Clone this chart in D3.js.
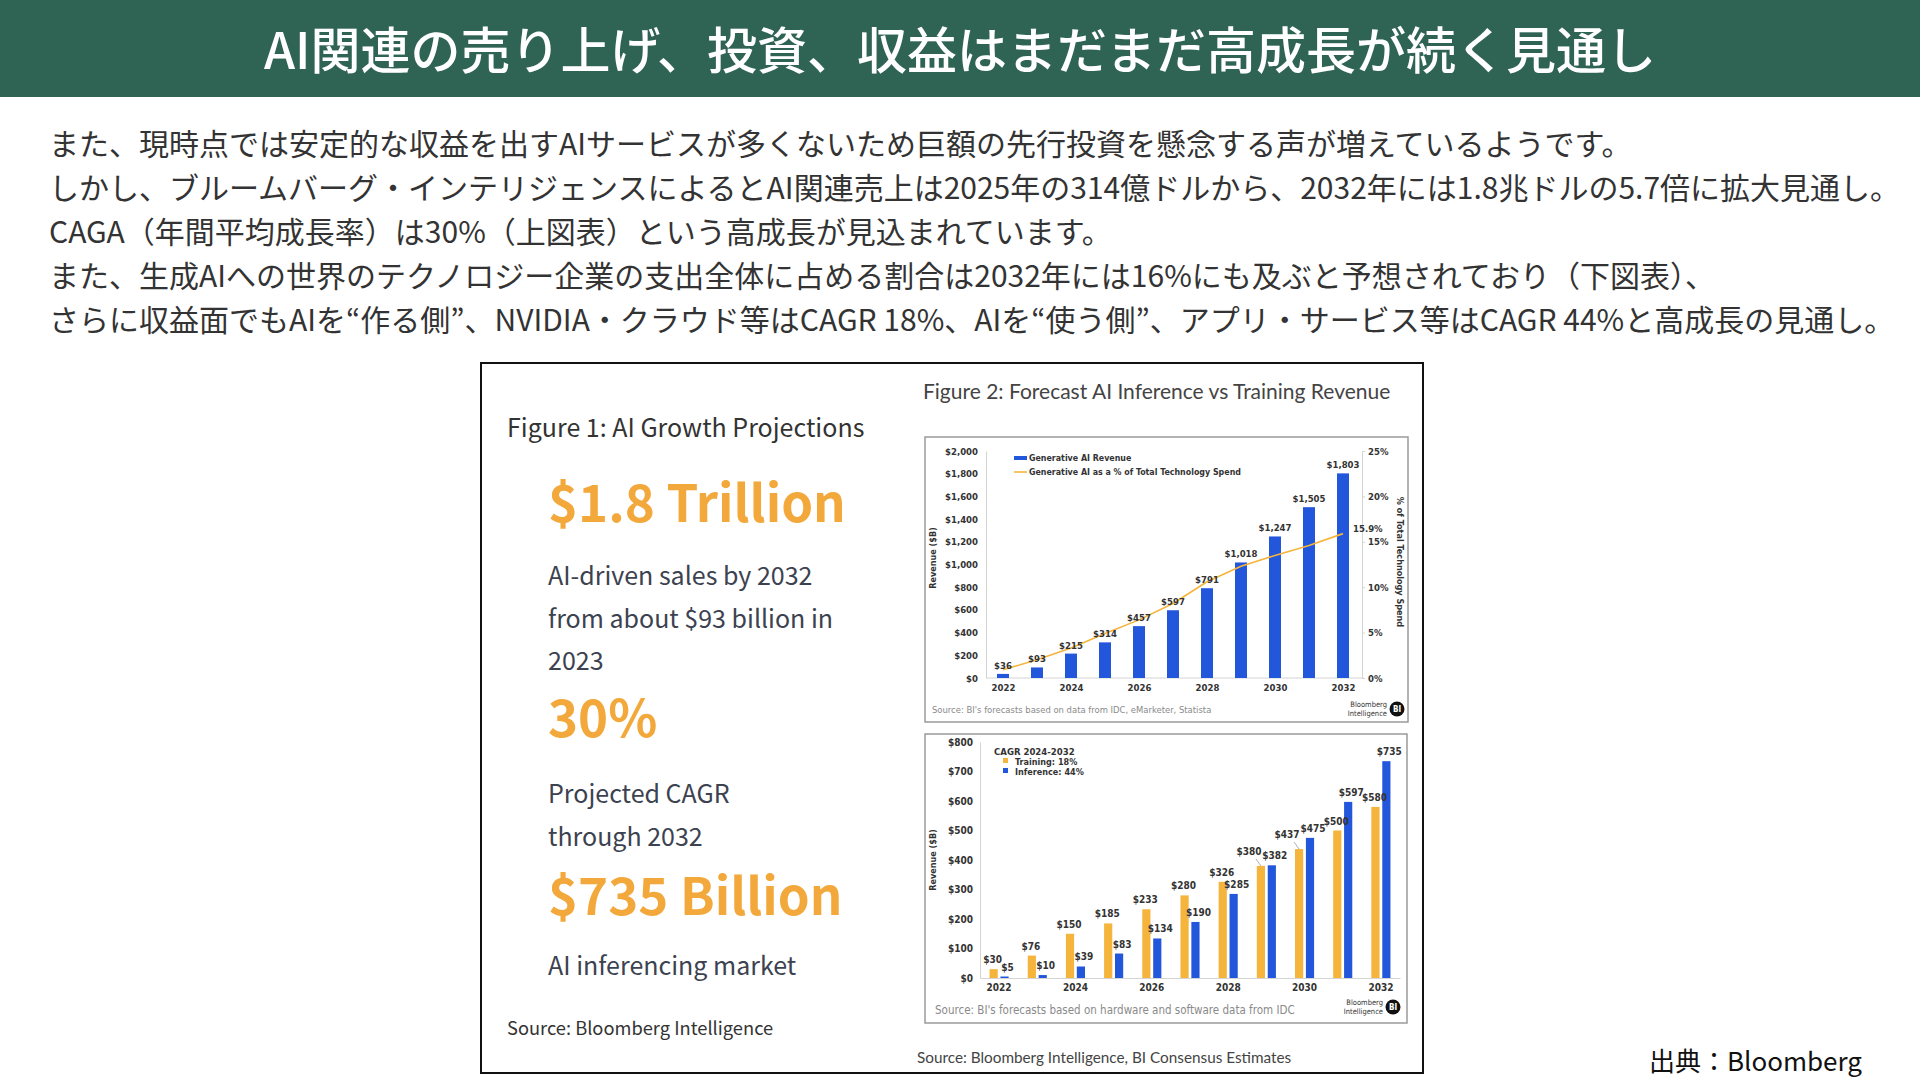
<!DOCTYPE html>
<html>
<head>
<meta charset="utf-8">
<script src="https://d3js.org/d3.v7.min.js"></script>
<style>
  body { margin: 0; background: #fff; }
  svg text { font-family: "Noto Sans CJK JP", sans-serif; }
  .lato { font-family: Lato, sans-serif; }
  .vb { font-family: "DejaVu Sans Condensed", "DejaVu Sans", sans-serif; font-weight: bold; fill: #333; }
  .vr { font-family: "DejaVu Sans Condensed", "DejaVu Sans", sans-serif; fill: #8a8a8a; }
</style>
</head>
<body>
<svg id="page" width="1920" height="1080"></svg>
<script>
// ---- data ----
var pageTitle = "AI関連の売り上げ、投資、収益はまだまだ高成長が続く見通し";
var bodyLines = [
  "また、現時点では安定的な収益を出すAIサービスが多くないため巨額の先行投資を懸念する声が増えているようです。",
  "しかし、ブルームバーグ・インテリジェンスによるとAI関連売上は2025年の314億ドルから、2032年には1.8兆ドルの5.7倍に拡大見通し。",
  "CAGA（年間平均成長率）は30%（上図表）という高成長が見込まれています。",
  "また、生成AIへの世界のテクノロジー企業の支出全体に占める割合は2032年には16%にも及ぶと予想されており（下図表）、",
  "さらに収益面でもAIを“作る側”、NVIDIA・クラウド等はCAGR 18%、AIを“使う側”、アプリ・サービス等はCAGR 44%と高成長の見通し。"
];
var fig1Title = "Figure 1: AI Growth Projections";
var fig1Headlines = ["$1.8 Trillion", "30%", "$735 Billion"];
var fig1Notes = [
  ["AI-driven sales by 2032", "from about $93 billion in", "2023"],
  ["Projected CAGR", "through 2032"],
  ["AI inferencing market"]
];
var fig1Source = "Source: Bloomberg Intelligence";
var fig2Title = "Figure 2: Forecast AI Inference vs Training Revenue";
var fig2Source = "Source: Bloomberg Intelligence, BI Consensus Estimates";
var creditText = "出典：Bloomberg";

var years = [2022, 2023, 2024, 2025, 2026, 2027, 2028, 2029, 2030, 2031, 2032];
var yearTicks = [2022, 2024, 2026, 2028, 2030, 2032];

// chart A: generative AI revenue ($B) and share of tech spend (%)
var genAiRevenue = [36, 93, 215, 314, 457, 597, 791, 1018, 1247, 1505, 1803];
var genAiShare = [0.9, 2.0, 3.3, 4.9, 6.4, 8.2, 10.6, 12.3, 13.5, 14.6, 15.9];
var revenueTicksA = [0, 200, 400, 600, 800, 1000, 1200, 1400, 1600, 1800, 2000];
var shareTicks = [0, 5, 10, 15, 20, 25];
var legendA = ["Generative AI Revenue", "Generative AI as a % of Total Technology Spend"];
var sourceA = "Source: BI's forecasts based on data from IDC, eMarketer, Statista";

// chart B: training vs inference revenue ($B)
var seriesNames = ["Training", "Inference"];
var seriesCagr = [18, 44];
var trainingRevenue = [30, 76, 150, 185, 233, 280, 326, 380, 437, 500, 580];
var inferenceRevenue = [5, 10, 39, 83, 134, 190, 285, 382, 475, 597, 735];
var revenueTicksB = [0, 100, 200, 300, 400, 500, 600, 700, 800];
var legendBTitle = "CAGR 2024-2032";
var sourceB = "Source: BI's forecasts based on hardware and software data from IDC";

var blue = "#2357db", orange = "#f5b43c", bigOrange = "#f2a83b";
var money = function(d) { return "$" + d3.format(",")(d); };

var svg = d3.select("#page");

// ---- header ----
svg.append("rect").attr("x", 0).attr("y", 0).attr("width", 1920).attr("height", 97).attr("fill", "#2f6353");
svg.append("text").attr("x", 960).attr("y", 69).attr("text-anchor", "middle")
  .attr("fill", "#fff").style("font-size", "50px").style("font-weight", 500).text(pageTitle);

svg.append("g").selectAll("text").data(bodyLines).enter().append("text")
  .attr("x", 49).attr("y", function(d, i) { return 155 + i * 44; })
  .attr("fill", "#333").style("font-size", "30px").text(function(d) { return d; });

// ---- panel ----
svg.append("rect").attr("x", 481).attr("y", 363).attr("width", 942).attr("height", 710)
  .attr("fill", "none").attr("stroke", "#111").attr("stroke-width", 2);

// figure 1 text column
var f1 = svg.append("g").attr("class", "lato");
f1.append("text").attr("x", 507).attr("y", 437).attr("fill", "#333").style("font-size", "25px").text(fig1Title);
var headBase = [522, 737, 915];
var noteBase = [585, 803, 975];
fig1Headlines.forEach(function(h, i) {
  f1.append("text").attr("x", 548).attr("y", headBase[i]).attr("fill", bigOrange)
    .style("font-size", "51px").style("font-weight", 700).text(h);
  fig1Notes[i].forEach(function(t, j) {
    f1.append("text").attr("x", 548).attr("y", noteBase[i] + j * 42.5).attr("fill", "#3c4250")
      .style("font-size", "25px").text(t);
  });
});
f1.append("text").attr("x", 507).attr("y", 1035).attr("fill", "#333").style("font-size", "18.3px").text(fig1Source);

svg.append("text").attr("class", "lato").attr("x", 923).attr("y", 399).attr("fill", "#444")
  .style("font-size", "21px").text(fig2Title);
svg.append("text").attr("class", "lato").attr("x", 917).attr("y", 1063).attr("fill", "#444")
  .style("font-size", "15.3px").text(fig2Source);
svg.append("text").attr("x", 1649).attr("y", 1071).attr("fill", "#111")
  .style("font-size", "26px").text(creditText);

function biLogo(g, x, y) {
  g.append("text").attr("class", "vb").attr("x", x - 10).attr("y", y - 2).attr("text-anchor", "end")
    .style("font-size", "7.5px").style("font-weight", "normal").text("Bloomberg");
  g.append("text").attr("class", "vb").attr("x", x - 10).attr("y", y + 7).attr("text-anchor", "end")
    .style("font-size", "7.5px").style("font-weight", "normal").text("Intelligence");
  g.append("circle").attr("cx", x).attr("cy", y).attr("r", 7.5).attr("fill", "#111");
  g.append("text").attr("class", "vb").attr("x", x).attr("y", y + 3).attr("text-anchor", "middle")
    .style("font-size", "8px").style("fill", "#fff").text("BI");
}

function styleAxis(g, size) {
  g.selectAll(".domain").attr("stroke", "#d4d4d4");
  g.selectAll(".tick line").attr("stroke", "#d4d4d4");
  g.selectAll(".tick text").attr("class", "vb").style("font-size", size);
}

// ---- chart A ----
var gA = svg.append("g");
gA.append("rect").attr("x", 925).attr("y", 437).attr("width", 483).attr("height", 285)
  .attr("fill", "#fff").attr("stroke", "#9a9a9a").attr("stroke-width", 1.5);

var xA = d3.scalePoint().domain(years).range([986, 1360]).padding(0.5);
var yA = d3.scaleLinear().domain([0, 2000]).range([678, 451]);
var yA2 = d3.scaleLinear().domain([0, 25]).range([678, 451]);

gA.append("g").attr("transform", "translate(986,0)")
  .call(d3.axisLeft(yA).tickValues(revenueTicksA).tickSize(0).tickPadding(8).tickFormat(money))
  .call(styleAxis, "9.5px");
gA.append("g").attr("transform", "translate(1362,0)")
  .call(d3.axisRight(yA2).tickValues(shareTicks).tickSize(3).tickPadding(3).tickFormat(function(d) { return d + "%"; }))
  .call(styleAxis, "9.5px");
gA.append("g").attr("transform", "translate(0,678)")
  .call(d3.axisBottom(xA).tickValues(yearTicks).tickSize(0).tickPadding(6))
  .call(styleAxis, "9.5px")
  .call(function(g) { g.select(".domain").attr("d", "M986,0H1362"); });

gA.selectAll(".barA").data(years).enter().append("rect")
  .attr("x", function(d) { return xA(d) - 6; }).attr("width", 12)
  .attr("y", function(d, i) { return yA(genAiRevenue[i]); })
  .attr("height", function(d, i) { return yA(0) - yA(genAiRevenue[i]); })
  .attr("fill", blue);

gA.append("path").datum(years)
  .attr("d", d3.line().x(function(d) { return xA(d); }).y(function(d, i) { return yA2(genAiShare[i]); }))
  .attr("fill", "none").attr("stroke", orange).attr("stroke-width", 1.6);

gA.selectAll(".lblA").data(years).enter().append("text").attr("class", "vb")
  .attr("x", function(d) { return xA(d); }).attr("y", function(d, i) { return yA(genAiRevenue[i]) - 5; })
  .attr("text-anchor", "middle").style("font-size", "9.5px")
  .text(function(d, i) { return money(genAiRevenue[i]); });

var lastI = years.length - 1;
gA.append("text").attr("class", "vb").attr("x", xA(years[lastI]) + 10).attr("y", yA2(genAiShare[lastI]) - 2)
  .style("font-size", "9.5px").text(genAiShare[lastI] + "%");

gA.append("rect").attr("x", 1014).attr("y", 456).attr("width", 13).attr("height", 4).attr("fill", blue);
gA.append("line").attr("x1", 1014).attr("x2", 1027).attr("y1", 472).attr("y2", 472)
  .attr("stroke", orange).attr("stroke-width", 1.6);
legendA.forEach(function(t, i) {
  gA.append("text").attr("class", "vb").attr("x", 1029).attr("y", 461 + i * 14)
    .style("font-size", "8.8px").text(t);
});
gA.append("text").attr("class", "vb").attr("transform", "translate(936,558) rotate(-90)")
  .attr("text-anchor", "middle").style("font-size", "9px").text("Revenue ($B)");
gA.append("text").attr("class", "vb").attr("transform", "translate(1397,562) rotate(90)")
  .attr("text-anchor", "middle").style("font-size", "9px").text("% of Total Technology Spend");
gA.append("text").attr("class", "vr").attr("x", 932).attr("y", 713).style("font-size", "9.4px").text(sourceA);
biLogo(gA, 1397, 709);

// ---- chart B ----
var gB = svg.append("g");
gB.append("rect").attr("x", 925).attr("y", 734).attr("width", 482).attr("height", 289)
  .attr("fill", "#fff").attr("stroke", "#9a9a9a").attr("stroke-width", 1.5);

var x0 = d3.scaleBand().domain(years).range([980, 1400]).paddingInner(0.5).paddingOuter(0.25);
var x1 = d3.scaleBand().domain(seriesNames).range([0, x0.bandwidth()]).paddingInner(0.25);
var yB = d3.scaleLinear().domain([0, 800]).range([978, 742]);
var seriesValues = [trainingRevenue, inferenceRevenue];
var seriesColors = [orange, blue];

gB.append("g").attr("transform", "translate(980,0)")
  .call(d3.axisLeft(yB).tickValues(revenueTicksB).tickSize(0).tickPadding(7).tickFormat(money))
  .call(styleAxis, "10px");
gB.append("g").attr("transform", "translate(0,978)")
  .call(d3.axisBottom(x0).tickValues(yearTicks).tickSize(0).tickPadding(6))
  .call(styleAxis, "10px");

seriesNames.forEach(function(s, k) {
  gB.selectAll(".bar" + s).data(years).enter().append("rect")
    .attr("x", function(d) { return x0(d) + x1(s); }).attr("width", x1.bandwidth())
    .attr("y", function(d, i) { return yB(seriesValues[k][i]); })
    .attr("height", function(d, i) { return yB(0) - yB(seriesValues[k][i]); })
    .attr("fill", seriesColors[k]);
});

// value labels, with the training label nudged when it collides with the inference one
years.forEach(function(yr, i) {
  var tv = trainingRevenue[i], iv = inferenceRevenue[i];
  var xt = x0(yr) + x1("Training") + x1.bandwidth() / 2 - 1;
  var xi = x0(yr) + x1("Inference") + x1.bandwidth() / 2 + 3;
  var yt = yB(tv) - 6, yi = yB(iv) - 6;
  var wt = money(tv).length * 5.8, wi = money(iv).length * 5.8;
  if (Math.abs(yt - yi) < 12 && (xi - xt) < (wt + wi) / 2) {
    gB.append("line").attr("x1", xt - 4).attr("y1", yt - 1).attr("x2", xt + 1).attr("y2", yB(tv))
      .attr("stroke", "#999").attr("stroke-width", 0.8);
    xt -= 11; yt -= 5;
  }
  gB.append("text").attr("class", "vb").attr("x", xt).attr("y", yt).attr("text-anchor", "middle")
    .style("font-size", "10px").text(money(tv));
  gB.append("text").attr("class", "vb").attr("x", xi).attr("y", yi).attr("text-anchor", "middle")
    .style("font-size", "10px").text(money(iv));
});

gB.append("text").attr("class", "vb").attr("x", 994).attr("y", 755).style("font-size", "9.5px").text(legendBTitle);
seriesNames.forEach(function(s, k) {
  gB.append("rect").attr("x", 1003).attr("y", 758 + k * 10).attr("width", 5).attr("height", 5).attr("fill", seriesColors[k]);
  gB.append("text").attr("class", "vb").attr("x", 1015).attr("y", 765 + k * 10)
    .style("font-size", "9px").text(s + ": " + seriesCagr[k] + "%");
});
gB.append("text").attr("class", "vb").attr("transform", "translate(936,860) rotate(-90)")
  .attr("text-anchor", "middle").style("font-size", "9px").text("Revenue ($B)");
gB.append("text").attr("class", "vr").attr("x", 935).attr("y", 1014).style("font-size", "11.5px").text(sourceB);
biLogo(gB, 1393, 1007);
</script>
</body>
</html>
